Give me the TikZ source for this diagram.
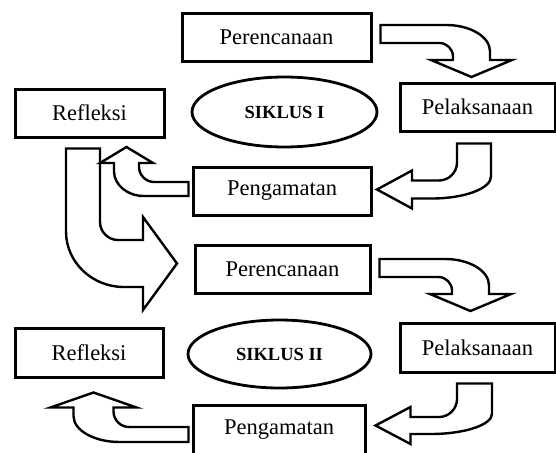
\documentclass[tikz,border=0pt]{standalone}
\usepackage{fontspec}
\setmainfont{Liberation Serif}
\usetikzlibrary{shapes,calc}

% bent block arrow: [placement]{start width}{turn point}{end width}{head base}{head overhang}{head length}
\newcommand{\bendarrow}[7][]{%
  \begin{scope}[#1]
    \pgfmathsetmacro{\bLo}{#3+#4/2}
    \pgfmathsetmacro{\bLi}{#3-#4/2}
    \pgfmathsetmacro{\bAo}{0.4*\bLo}
    \pgfmathsetmacro{\bTo}{0.75*(#5+#2/2)}
    \pgfmathsetmacro{\bRi}{min(18,0.8*(#5-#2/2))}
    \draw[barrow] (0,{-#2/2}) -- ({\bLo-\bAo},{-#2/2})
      .. controls ({\bLo-0.45*\bAo},{-#2/2}) and (\bLo,{-#2/2+0.45*\bTo}) .. (\bLo,{-#2/2+\bTo})
      -- (\bLo,#5) -- ({\bLo+#6},#5) -- (#3,{#5+#7}) -- ({\bLi-#6},#5) -- (\bLi,#5)
      -- (\bLi,{#2/2+\bRi})
      .. controls (\bLi,{#2/2+0.45*\bRi}) and ({\bLi-0.45*\bRi},{#2/2}) .. ({\bLi-\bRi},{#2/2})
      -- (0,{#2/2}) -- cycle;
  \end{scope}}

\begin{document}
\begin{tikzpicture}[x=1pt,y=-1pt,
  stage/.style={draw,line width=3pt,inner sep=0pt,minimum height=48pt,
                font=\fontsize{22.5}{26}\selectfont},
  cycle/.style={draw,ellipse,line width=2.8pt,inner sep=0pt,
                font=\fontsize{18.5}{22}\selectfont\bfseries},
  barrow/.style={draw,fill=white,line width=2.4pt,line join=miter}
]
\useasboundingbox (0,0) rectangle (556,452);

% first cycle
\node[stage,minimum width=189pt] (pre1) at (276.5,37.5) {Perencanaan};
\node[stage,minimum width=155pt] (pel1) at (477.5,107)  {Pelaksanaan};
\node[stage,minimum width=178pt] (pen1) at (282,191)    {Pengamatan};
\node[stage,minimum width=149pt] (ref1) at (89.5,113)   {Refleksi};
\node[cycle,minimum width=185pt,minimum height=70pt] (sik1) at (284.5,112) {SIKLUS I};

% second cycle
\node[stage,minimum width=175pt] (pre2) at (282.5,269)  {Perencanaan};
\node[stage,minimum width=155pt,minimum height=49pt] (pel2) at (477.5,347.5) {Pelaksanaan};
\node[stage,minimum width=172pt,minimum height=50pt] (pen2) at (279,430) {Pengamatan};
\node[stage,minimum width=148pt,minimum height=49pt] (ref2) at (89,352.5) {Refleksi};
\node[cycle,minimum width=183pt,minimum height=68pt] (sik2) at (279.5,354) {SIKLUS II};

% block arrows of cycle I
\bendarrow[shift={($(pre1.east)+(8,-3.5)$)}]{18}{91}{37}{26}{22}{17}
\bendarrow[shift={($(pel1.south)+(-3.5,11)$)},rotate=-90]{34}{46}{18}{62}{10}{35}
% Refleksi I down into Perencanaan II
\bendarrow[shift={($(ref1.south)+(-6.5,10)$)},rotate=-90,yscale=-1]{34}{115}{47}{60}{23}{34}
\bendarrow[shift={($(pen1.west)+(-3,-2)$)},rotate=180]{14}{62}{25}{26}{14}{16}

% block arrows of cycle II
\bendarrow[shift={($(pre2.east)+(8,-1)$)}]{18}{91}{37}{26}{22}{17}
\bendarrow[shift={($(pel2.south)+(-3,10)$)},rotate=-90]{35}{42}{17}{64}{10}{35}
\bendarrow[shift={($(pen2.west)+(-3,4.5)$)},rotate=180]{15}{95}{40}{27}{23}{15}
\end{tikzpicture}
\end{document}
